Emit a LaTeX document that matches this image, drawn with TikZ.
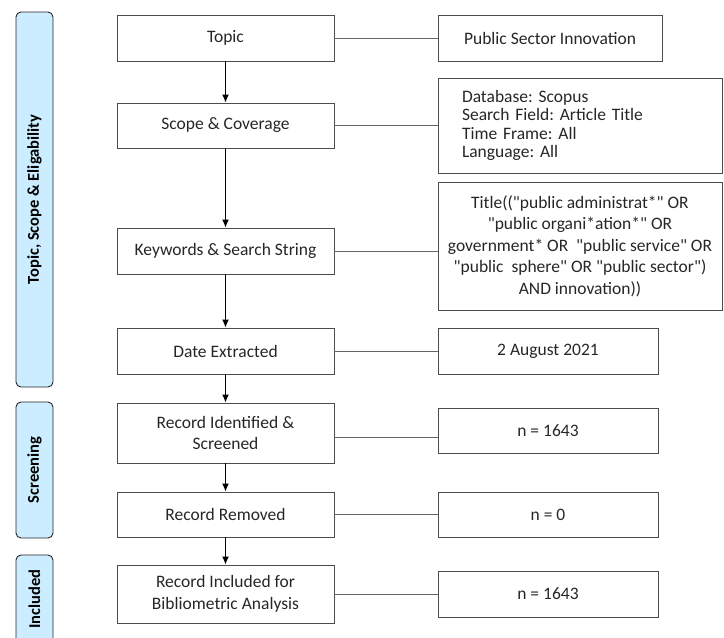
\documentclass[tikz,border=0pt]{standalone}
\usepackage{fontspec}
\setmainfont{Carlito}[Ligatures=TeXOff]
\usetikzlibrary{arrows.meta}
\definecolor{phasefill}{RGB}{204,236,255}
\frenchspacing

\begin{document}
\begin{tikzpicture}[x=1pt,y=-1pt,>={Latex[length=8pt,width=7pt]},
  box/.style={draw=black!70,line width=0.9pt,align=center,text=black!85,
    font=\fontsize{17.5}{21.5}\selectfont,inner sep=3pt},
  stage/.style={box,minimum width=217pt}, info/.style={box,minimum width=220pt},
  phase/.style={draw=black!85,line width=0.9pt,fill=phasefill,rounded corners=5pt,rotate=90,
    minimum height=37pt,font=\fontsize{16.5}{20}\selectfont\bfseries},
  link/.style={draw=black!60,line width=0.8pt}]
\useasboundingbox (0,0) rectangle (724,638);
% phases
\node[phase,minimum width=375pt] (topicph) at (34.5,199.5) {Topic, Scope \& Eligability};
\node[phase,minimum width=136pt] (screenph) at (34.5,470) {Screening};
\node[phase,minimum width=88pt] (inclph) at (34.5,599) {Included};
% steps
\node[stage,minimum height=46pt] (topic) at (225.5,38) {Topic};
\node[stage,minimum height=45pt] (scope) at (225.5,125.5) {Scope \& Coverage};
\node[stage,minimum height=46pt] (kw) at (225.5,251) {Keywords \& Search String};
\node[stage,minimum height=46pt] (date) at (225.5,351) {Date Extracted};
\node[stage,minimum height=60pt] (ident) at (225.5,433) {Record Identified \&\\Screened};
\node[stage,minimum height=45pt] (removed) at (225.5,514.5) {Record Removed};
\node[stage,minimum height=58pt] (incl) at (225.5,594) {Record Included for\\Bibliometric Analysis};
% details
\node[info,minimum width=224pt,minimum height=46pt] (topicinfo) at (550,38) {Public Sector Innovation};
\node[info,minimum height=95pt,text width=236pt,inner xsep=24pt,align=left,
  font=\fontsize{17.5}{18.5}\selectfont] (scopeinfo) at (580,125.5)
  {Database: Scopus\\Search Field: Article Title\\Time Frame: All\\Language: All};
\node[info,minimum width=284pt,minimum height=128pt,inner xsep=1pt] (kwinfo) at (580,246)
  {Title(("public administrat*" OR\\"public organi*ation*" OR\\government* OR~ "public service" OR\\"public~ sphere" OR "public sector")\\AND innovation))};
\node[info,minimum height=46pt] (dateinfo) at (548,351) {2 August 2021};
\node[info,minimum height=45pt] (identinfo) at (548,430.5) {n = 1643};
\node[info,minimum height=45pt] (removedinfo) at (548,514.5) {n = 0};
\node[info,minimum height=46pt] (inclinfo) at (548,594) {n = 1643};
% flow
\draw[->,line width=1.2pt] (topic)--(scope); \draw[->,line width=1.2pt] (scope)--(kw);
\draw[->,line width=1.2pt] (kw)--(date); \draw[->,line width=1.2pt] (date)--(ident);
\draw[->,line width=1.2pt] (ident)--(removed); \draw[->,line width=1.2pt] (removed)--(incl);
\draw[link] (topic.east)--(topic.east-|topicinfo.west);
\draw[link] (scope.east)--(scope.east-|scopeinfo.west);
\draw[link] (kw.east)--(kw.east-|kwinfo.west);
\draw[link] (date.east)--(date.east-|dateinfo.west);
\draw[link] ([yshift=-4pt]ident.east)--([yshift=-4pt]ident.east-|identinfo.west);
\draw[link] (removed.east)--(removed.east-|removedinfo.west);
\draw[link] (incl.east)--(incl.east-|inclinfo.west);
\end{tikzpicture}
\end{document}
